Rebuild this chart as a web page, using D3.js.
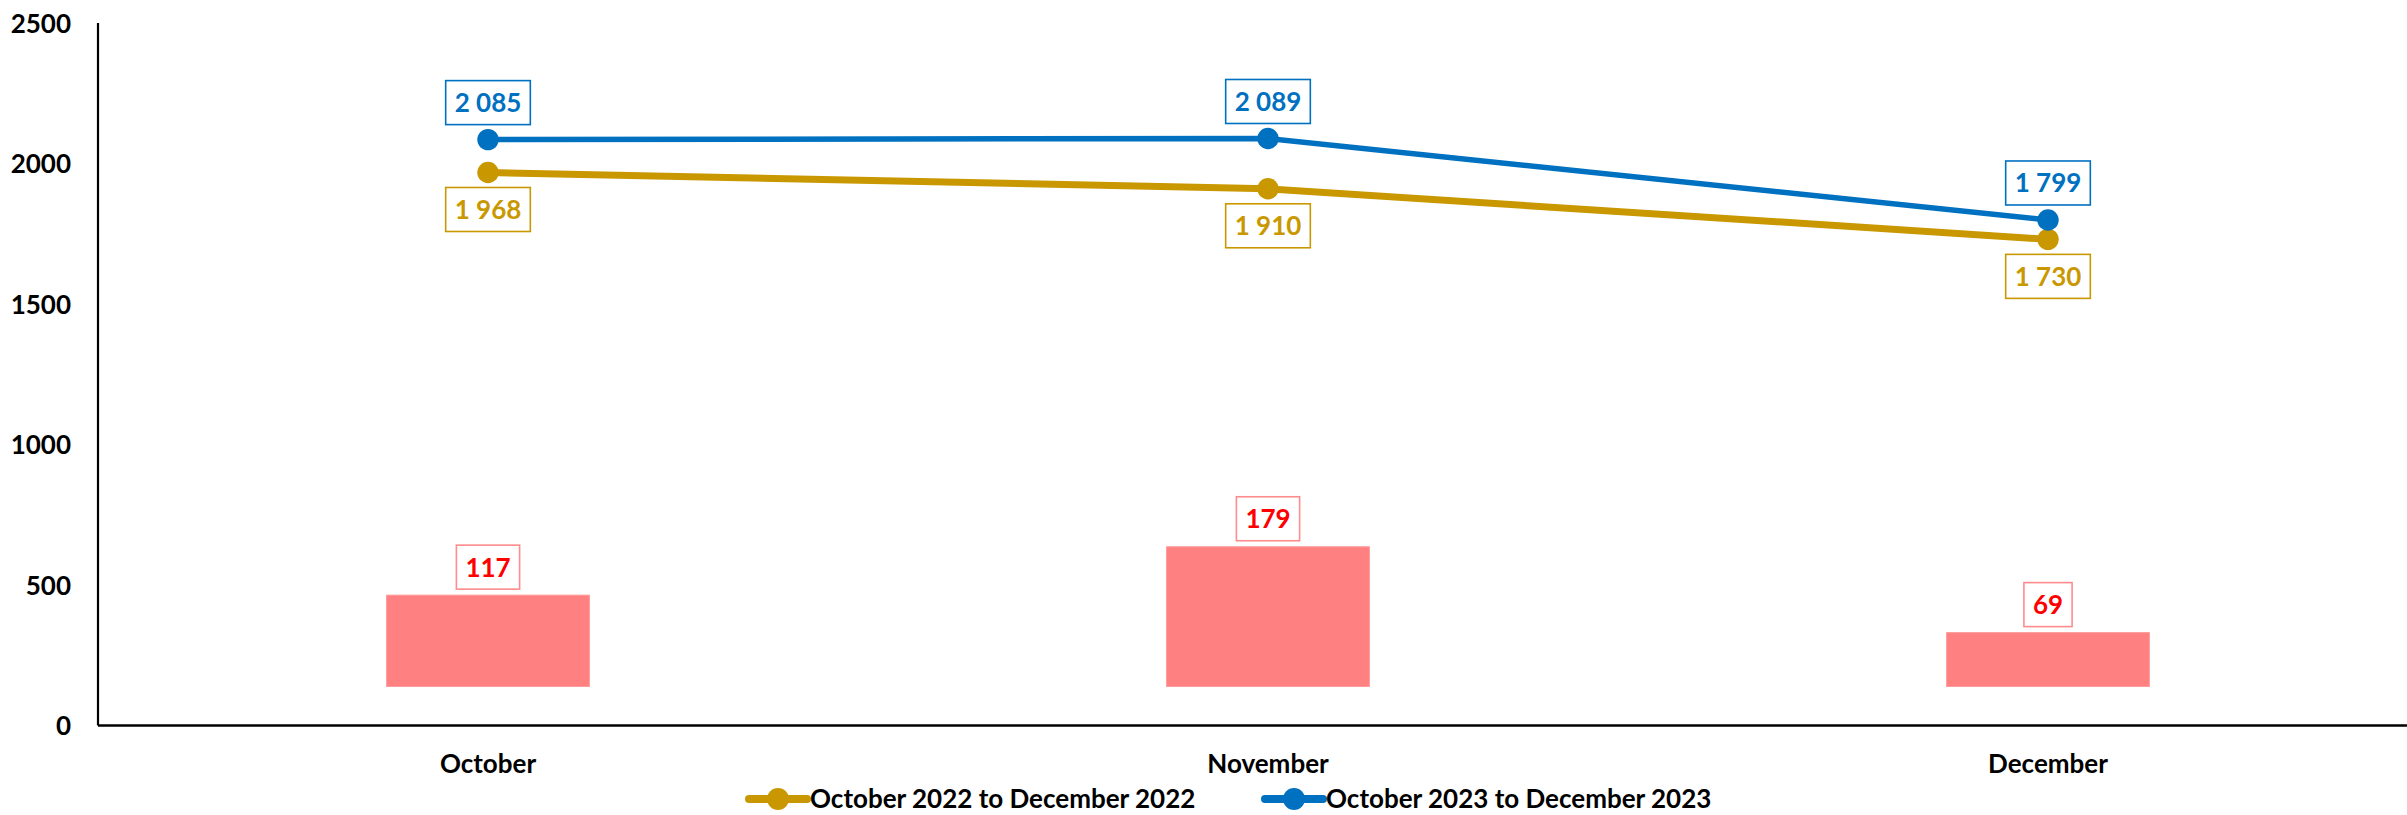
<!DOCTYPE html>
<html>
<head>
<meta charset="utf-8">
<script src="https://cdn.jsdelivr.net/npm/d3@7"></script>
<style>
  html, body { margin: 0; padding: 0; background: #fff; }
  svg { display: block; font-family: "Lato", "Open Sans", sans-serif; font-weight: bold; }
  .axis text { font-size: 26px; fill: #000; font-family: "Lato", "Open Sans", sans-serif; font-weight: bold; }
  .label { font-size: 26px; }
</style>
</head>
<body>
<svg id="chart"></svg>
<script>
const width = 2407;
const height = 815;

const months = ["October", "November", "December"];
const values2022 = [1968, 1910, 1730];
const values2023 = [2085, 2089, 1799];
const diffs = [117, 179, 69];
const yTicks = [0, 500, 1000, 1500, 2000, 2500];
const seriesNames = ["October 2022 to December 2022", "October 2023 to December 2023"];

const gold = "#C99800";
const blue = "#0070C0";

const fmt = d3.formatLocale({ decimal: ".", thousands: " ", grouping: [3], currency: ["", ""] }).format(",d");

const svg = d3.select("#chart").attr("width", width).attr("height", height);

const x = d3.scaleBand().domain(months).range([98, 2438]);
const y = d3.scaleLinear().domain([0, 2500]).range([725.5, 23]);
// hidden secondary axis for the difference bars
const y2 = d3.scaleLinear().domain([-50, 850]).range([725.5, 23]);
const cx = (m) => x(m) + x.bandwidth() / 2;
const barW = x.bandwidth() * 0.26;

// bars
const barData = months.map((m, i) => ({ m, v: diffs[i] }));
svg.append("g")
  .selectAll("rect")
  .data(barData)
  .join("rect")
  .attr("x", (d) => cx(d.m) - barW / 2)
  .attr("width", barW)
  .attr("y", (d) => y2(d.v))
  .attr("height", (d) => y2(0) - y2(d.v))
  .attr("fill", "#FF8080")
  .attr("stroke", "#FF9A9A")
  .attr("stroke-width", 1);

// axes
svg.append("g")
  .attr("class", "axis")
  .attr("transform", "translate(98,0)")
  .call(d3.axisLeft(y).tickValues(yTicks).tickFormat(d3.format("d")).tickSize(0).tickPadding(27))
  .call((g) => g.select(".domain").remove())
  .call((g) => g.selectAll("text").attr("dy", "0.36em"));
svg.append("line")
  .attr("x1", 98).attr("x2", 98)
  .attr("y1", y(2500)).attr("y2", y(0))
  .attr("stroke", "#000").attr("stroke-width", 2.2);

svg.append("g")
  .attr("class", "axis")
  .attr("transform", `translate(0,${y(0)})`)
  .call(d3.axisBottom(x).tickSize(0))
  .call((g) => g.select(".domain").remove())
  .call((g) => g.selectAll("text").attr("y", 38).attr("dy", "0.36em"));
svg.append("line")
  .attr("x1", 98).attr("x2", width)
  .attr("y1", y(0)).attr("y2", y(0))
  .attr("stroke", "#000").attr("stroke-width", 2.6);

// lines
const series = [
  { name: seriesNames[0], values: values2022, color: gold, sw: 7, dir: 1 },
  { name: seriesNames[1], values: values2023, color: blue, sw: 5.5, dir: -1 },
];
const line = d3.line().x((d) => cx(d.m)).y((d) => y(d.v));

series.forEach((s) => {
  const pts = months.map((m, i) => ({ m, v: s.values[i] }));
  svg.append("path")
    .datum(pts)
    .attr("d", line)
    .attr("fill", "none")
    .attr("stroke", s.color)
    .attr("stroke-width", s.sw)
    .attr("stroke-linejoin", "round");
  svg.append("g")
    .selectAll("circle")
    .data(pts)
    .join("circle")
    .attr("cx", (d) => cx(d.m))
    .attr("cy", (d) => y(d.v))
    .attr("r", 10.7)
    .attr("fill", s.color);
});

// boxed data labels
function boxLabel(g, px, py, text, color, stroke) {
  const grp = g.append("g");
  const t = grp.append("text")
    .attr("class", "label")
    .attr("x", px)
    .attr("y", py)
    .attr("dy", "0.36em")
    .attr("text-anchor", "middle")
    .attr("fill", color)
    .text(text);
  const w = t.node().getComputedTextLength() + 18;
  grp.insert("rect", "text")
    .attr("x", px - w / 2)
    .attr("y", py - 22)
    .attr("width", w)
    .attr("height", 44)
    .attr("fill", "#fff")
    .attr("stroke", stroke)
    .attr("stroke-width", 1.6);
}

const labels = svg.append("g");
series.forEach((s) => {
  months.forEach((m, i) => {
    boxLabel(labels, cx(m), y(s.values[i]) + s.dir * 37, fmt(s.values[i]), s.color, s.color);
  });
});
barData.forEach((d) => {
  boxLabel(labels, cx(d.m), y2(d.v) - 28, fmt(d.v), "#FF0000", "#FF8C8C");
});

// legend
const legendX = [749, 1265];
const legend = svg.append("g").attr("transform", "translate(0,799)");
series.forEach((s, i) => {
  const g = legend.append("g").attr("transform", `translate(${legendX[i]},0)`);
  g.append("line")
    .attr("x1", 0).attr("x2", 58)
    .attr("stroke", s.color)
    .attr("stroke-width", 8)
    .attr("stroke-linecap", "round");
  g.append("circle").attr("cx", 29).attr("r", 11).attr("fill", s.color);
  g.append("text")
    .attr("x", 61)
    .attr("dy", "0.36em")
    .attr("font-size", 26)
    .attr("fill", "#000")
    .text(s.name);
});
</script>
</body>
</html>
